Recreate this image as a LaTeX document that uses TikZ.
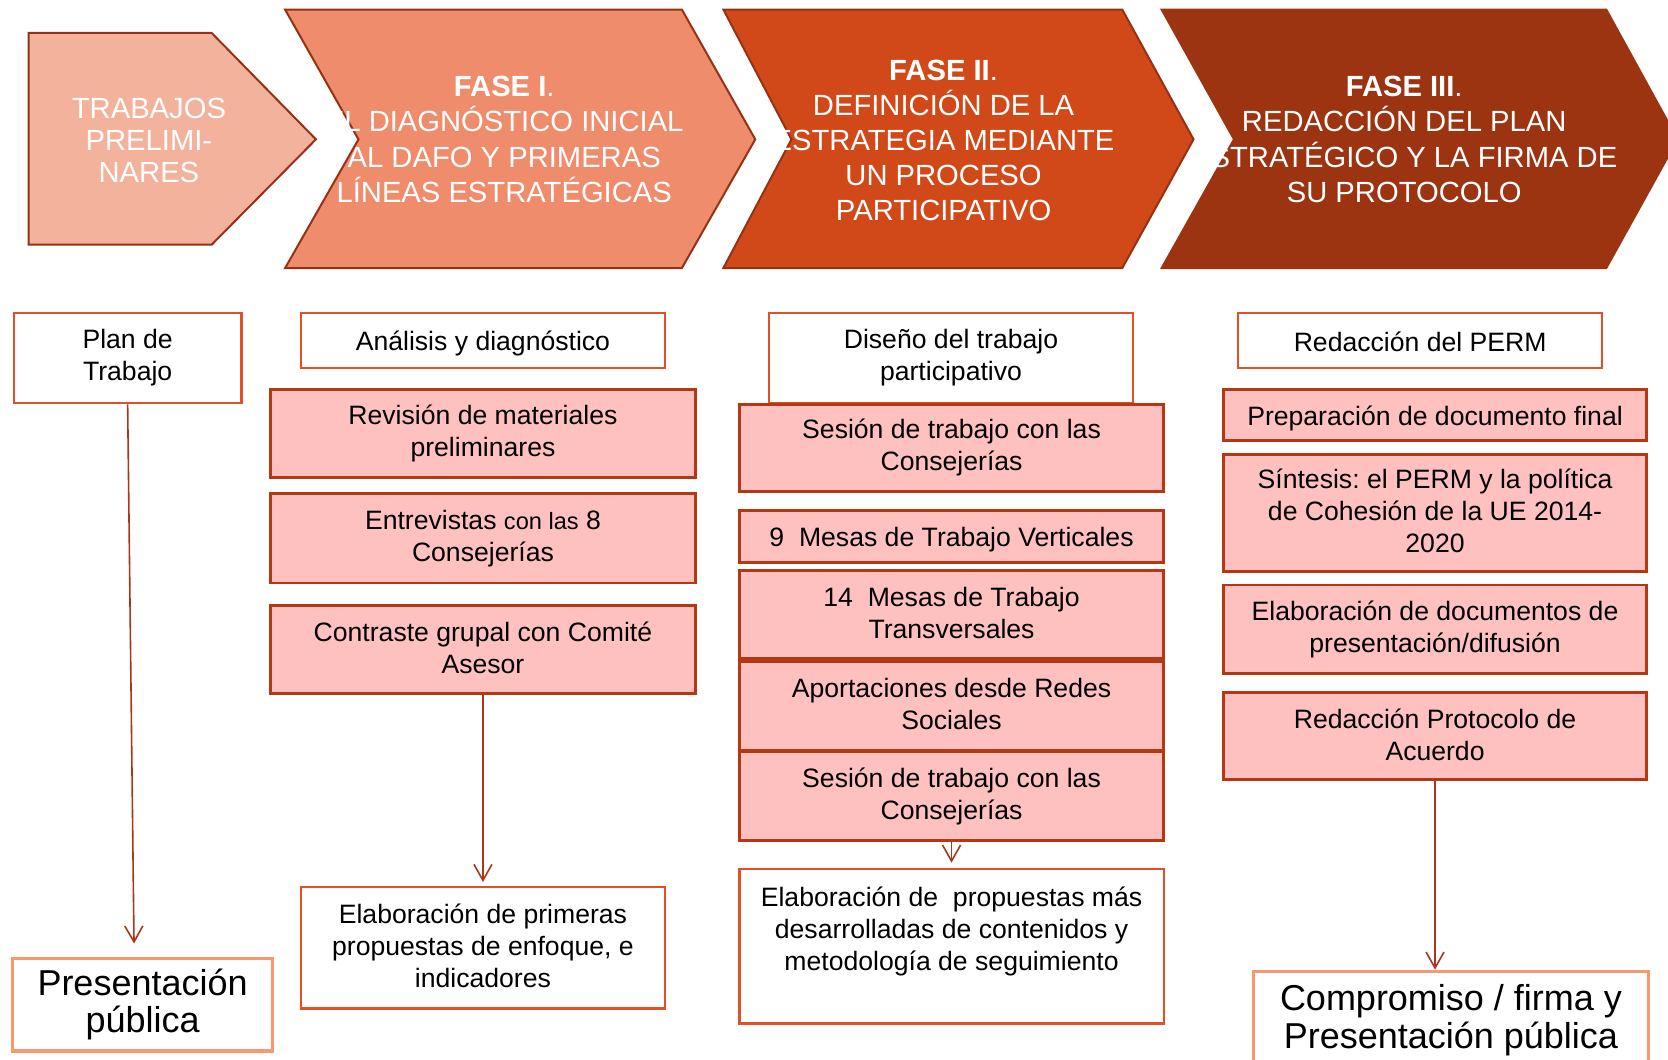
\documentclass[tikz,border=0pt]{standalone}
\usepackage{fontspec}
\setmainfont{Liberation Sans}
\usetikzlibrary{arrows.meta}

\definecolor{trabfill}{RGB}{243,178,155}
\definecolor{faseIfill}{RGB}{239,140,108}
\definecolor{faseIIfill}{RGB}{209,73,25}
\definecolor{faseIIIfill}{RGB}{156,52,18}
\definecolor{chevline}{RGB}{150,50,20}
\definecolor{boxline}{RGB}{224,82,38}
\definecolor{pinkfill}{RGB}{255,193,191}
\definecolor{pinkline}{RGB}{180,56,18}
\definecolor{presline}{RGB}{248,152,112}
\definecolor{arrowred}{RGB}{170,55,25}

\newcommand{\pxu}{0.532pt}
\frenchspacing

\begin{document}
\begin{tikzpicture}[x=0.532pt, y=-0.532pt,
  chev/.style={draw=chevline, line width=1pt, line join=miter},
  chevtext/.style={text=white, align=center, inner sep=0pt,
    font=\fontsize{14.6}{17.6}\selectfont},
  textstruts/.style={execute at begin node=\rule{0pt}{#1}, execute at end node=\rule[-1.8pt]{0pt}{1.8pt}},
  whitebox/.style={draw=boxline, fill=white, line width=1.2pt, align=center,
    inner sep=0pt, font=\fontsize{13.3}{16}\selectfont, textstruts=13pt},
  pinkbox/.style={draw=pinkline, fill=pinkfill, line width=1.4pt, align=center,
    inner sep=0pt, font=\fontsize{13.3}{16}\selectfont, textstruts=13pt},
  presbox/.style={draw=presline, fill=white, line width=1.6pt, align=center,
    inner sep=0pt, font=\fontsize{18}{18.6}\selectfont, textstruts=17pt},
  arr/.style={draw=arrowred, line width=0.8pt, -{Straight Barb[length=8pt,width=9pt]}}]

  % page frame
  \clip (0,0) rectangle (1568,996);

  % phases across the top
  \filldraw[chev, fill=trabfill] (27,31) -- (199,31) -- (297,131) -- (199,230) -- (27,230) -- cycle;
  \node[chevtext, font=\fontsize{14.6}{16.2}\selectfont] (trabajos) at (140,132)
    {TRABAJOS\\PRELIMI-\\NARES};

  \filldraw[chev, fill=faseIfill] (268,9) -- (641,9) -- (710,131) -- (641,252) -- (268,252) -- (337,131) -- cycle;
  \node[chevtext] (faseI) at (474,131)
    {\textbf{FASE I}.\\EL DIAGNÓSTICO INICIAL\\AL DAFO Y PRIMERAS\\LÍNEAS ESTRATÉGICAS};

  \filldraw[chev, fill=faseIIfill] (680,9) -- (1055,9) -- (1122,131) -- (1055,252) -- (680,252) -- (744,131) -- cycle;
  \node[chevtext] (faseII) at (887,132)
    {\textbf{FASE II}.\\DEFINICIÓN DE LA\\ESTRATEGIA MEDIANTE\\UN PROCESO\\PARTICIPATIVO};

  \filldraw[chev, draw=faseIIIfill, fill=faseIIIfill] (1092,9) -- (1510,9) -- (1577,131) -- (1510,252) -- (1092,252) -- (1160,131) -- cycle;
  \node[chevtext] (faseIII) at (1320,131)
    {\textbf{FASE III}.\\REDACCIÓN DEL PLAN\\ESTRATÉGICO Y LA FIRMA DE\\SU PROTOCOLO};

  % column 1
  \node[whitebox, minimum width=214*\pxu, minimum height=85*\pxu] (plan) at (120,336.5) {Plan de\\Trabajo};
  \node[presbox, minimum width=244*\pxu, minimum height=87*\pxu] (presentacion) at (134,944.5) {Presentación\\pública};
  \coordinate (presin) at (126,887);

  % column 2
  \node[whitebox, minimum width=342*\pxu, minimum height=52*\pxu] (analisis) at (454,320) {Análisis y diagnóstico};
  \node[pinkbox, minimum width=400*\pxu, minimum height=83*\pxu] (revision) at (454,407.5) {Revisión de materiales\\preliminares};
  \node[pinkbox, minimum width=400*\pxu, minimum height=84*\pxu] (entrevistas) at (454,506)
    {Entrevistas {\fontsize{11.8}{16}\selectfont con las} 8\\Consejerías};
  \node[pinkbox, minimum width=400*\pxu, minimum height=83*\pxu] (contraste) at (454,610.5) {Contraste grupal con Comité\\Asesor};
  \node[whitebox, minimum width=342*\pxu, minimum height=114*\pxu] (elabI) at (454,891)
    {Elaboración de primeras\\propuestas de enfoque, e\\indicadores};

  % column 3
  \node[whitebox, minimum width=342*\pxu, minimum height=85*\pxu] (diseno) at (894,336.5) {Diseño del trabajo\\participativo};
  \node[pinkbox, minimum width=399*\pxu, minimum height=82*\pxu] (sesionI) at (894.5,421) {Sesión de trabajo con las\\Consejerías};
  \node[pinkbox, minimum width=399*\pxu, minimum height=49*\pxu] (mesasV) at (894.5,504.5) {9~~Mesas de Trabajo Verticales};
  \node[pinkbox, minimum width=399*\pxu, minimum height=83*\pxu] (mesasT) at (894.5,577.5) {14~~Mesas de Trabajo\\Transversales};
  \node[pinkbox, minimum width=399*\pxu, minimum height=83*\pxu] (aportaciones) at (894.5,663.5) {Aportaciones desde Redes\\Sociales};
  \node[pinkbox, minimum width=399*\pxu, minimum height=83*\pxu] (sesionII) at (894.5,748.5) {Sesión de trabajo con las\\Consejerías};
  \node[whitebox, minimum width=399*\pxu, minimum height=145*\pxu] (elabII) at (894.5,889.5)
    {Elaboración de~~propuestas más\\desarrolladas de contenidos y\\metodología de seguimiento\\\rule{0pt}{8pt}};

  % column 4
  \node[whitebox, minimum width=342*\pxu, minimum height=52*\pxu] (redaccion) at (1335,320) {Redacción del PERM};
  \node[pinkbox, minimum width=398*\pxu, minimum height=48*\pxu] (preparacion) at (1349,390) {Preparación de documento final};
  \node[pinkbox, minimum width=398*\pxu, minimum height=110*\pxu] (sintesis) at (1349,482)
    {Síntesis: el PERM y la política\\de Cohesión de la UE 2014-\\2020};
  \node[pinkbox, minimum width=398*\pxu, minimum height=83*\pxu] (elabdocs) at (1349,591.5)
    {Elaboración de documentos de\\presentación/difusión};
  \node[pinkbox, minimum width=398*\pxu, minimum height=82*\pxu] (protocolo) at (1349,692) {Redacción Protocolo de\\Acuerdo};
  \node[presbox, minimum width=372*\pxu, minimum height=92*\pxu] (compromiso) at (1364,959)
    {Compromiso / firma y\\Presentación pública};

  % arrows
  \draw[arr] (plan.south) -- (presin);
  \draw[arr, shorten >=2pt] (contraste.south) -- (elabI.north);
  \draw[arr, shorten >=2.6pt] (sesionII.south) -- (elabII.north);
  \draw[arr] (protocolo.south) -- (protocolo.south |- compromiso.north);
\end{tikzpicture}
\end{document}
